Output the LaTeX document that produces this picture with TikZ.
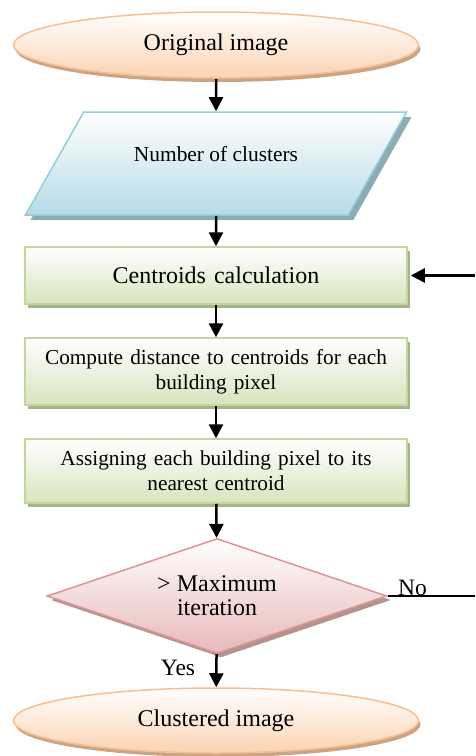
\documentclass[tikz,border=0pt]{standalone}
\usepackage{fontspec}
\setmainfont{Liberation Serif}
\usetikzlibrary{shapes.geometric,shadows,arrows.meta,positioning}

\definecolor{termline}{HTML}{F9BF8F}
\definecolor{termfill}{HTML}{FBD3B2}
\definecolor{termshadow}{HTML}{CCA484}
\definecolor{dataline}{HTML}{93CDDD}
\definecolor{datafill}{HTML}{B6DCE7}
\definecolor{datashadow}{HTML}{8EABB3}
\definecolor{procline}{HTML}{C3D69B}
\definecolor{procfill}{HTML}{D8E4BE}
\definecolor{procshadow}{HTML}{A6B48D}
\definecolor{decline}{HTML}{D99694}
\definecolor{decfill}{HTML}{E6B9B8}
\definecolor{decshadow}{HTML}{B39290}

\tikzset{
myterm/.style={
  ellipse,
  draw=termline, line width=1.5pt,
  top color=white, bottom color=termfill,
  minimum width=405pt, minimum height=66pt,
  drop shadow={shadow xshift=2pt,shadow yshift=-4pt,fill=termshadow,opacity=1},
  font=\fontsize{24}{26}\selectfont
  },
mydata/.style={
  trapezium, trapezium stretches=true,
  trapezium left angle=47.3, trapezium right angle=132.7,
  draw=dataline, line width=1.5pt,
  top color=white, bottom color=datafill,
  minimum width=382pt, minimum height=103pt,
  text height=15pt, text depth=19pt,
  drop shadow={shadow xshift=5pt,shadow yshift=-5pt,fill=datashadow,opacity=1},
  font=\fontsize{21.4}{25}\selectfont
  },
myproc/.style={
  rectangle,
  draw=procline, line width=1.5pt,
  top color=white, bottom color=procfill,
  minimum width=382pt,
  text width=370pt, align=center,
  drop shadow={shadow xshift=3pt,shadow yshift=-4pt,fill=procshadow,opacity=1},
  font=\fontsize{21.3}{25}\selectfont
  },
mydecision/.style={
  diamond, shape aspect=3,
  draw=decline, line width=1.5pt,
  top color=white, bottom color=decfill,
  minimum width=340pt, minimum height=115pt,
  align=center,
  drop shadow={shadow xshift=4pt,shadow yshift=-4pt,fill=decshadow,opacity=1},
  font=\fontsize{24}{24}\selectfont
  },
mylabel/.style={
  anchor=base, inner sep=0pt,
  font=\fontsize{23.5}{26}\selectfont
  }
}

\begin{document}
\begin{tikzpicture}[x=1pt,y=-1pt,>={Triangle[width=14pt,length=14pt]}]
\useasboundingbox (0,0) rectangle (475,756);

\node[myterm] (orig) at (216,45) {Original image};
\node[mydata] (nclust) at (216,163.5) {Number of clusters};
\node[myproc,minimum height=57pt,font=\fontsize{24}{26}\selectfont]
  (centr) at (216,275.5) {Centroids calculation};
\node[myproc,minimum height=67pt] (dist) at (216,371.5)
  {Compute distance to centroids for each\\building pixel};
\node[myproc,minimum height=64pt] (assign) at (216,471)
  {Assigning each building pixel to its\\nearest centroid};
\node[mydecision] (maxit) at (217,596) {> Maximum\\iteration};
\node[myterm,minimum height=65pt] (clust) at (216,720.5) {Clustered image};

\node[mylabel] (no) at (412.5,595) {No};
\node[mylabel] (yes) at (178,675) {Yes};

\coordinate (loop-in) at (475,275.5);
\coordinate (loop-out) at (475,596);

\begin{scope}[line width=2.5pt]
\draw[->] (orig) -- (nclust);
\draw[->] (nclust) -- (centr);
\draw[->] (centr) -- (dist);
\draw[->] (dist) -- (assign);
\draw[->] (assign) -- (maxit);
\draw[->] (maxit) -- (clust);
\draw[->] (loop-in) -- ([xshift=3pt]centr.east);
\end{scope}

\draw[line width=1.5pt] (maxit.east) -- (loop-out);

\end{tikzpicture}
\end{document}
